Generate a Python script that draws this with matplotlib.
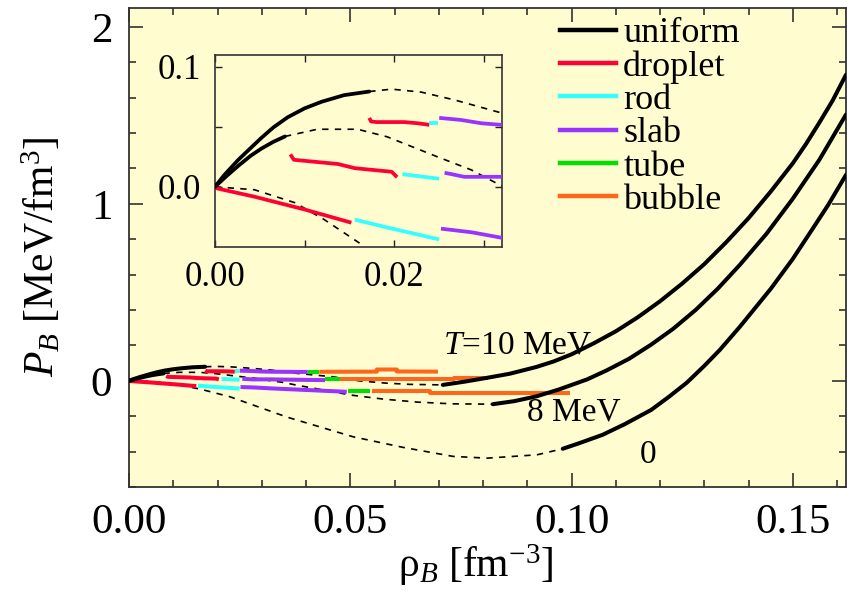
import matplotlib
matplotlib.use('Agg')
import matplotlib.pyplot as plt
from matplotlib.lines import Line2D
from matplotlib.ticker import MultipleLocator, FixedLocator, FixedFormatter

plt.rcParams['font.family'] = ['Liberation Serif', 'DejaVu Serif']
plt.rcParams['mathtext.fontset'] = 'custom'
plt.rcParams['mathtext.rm'] = 'Liberation Serif'
plt.rcParams['mathtext.it'] = 'Liberation Serif:italic'

# ---------------- data ----------------
phase_names = ['uniform', 'droplet', 'rod', 'slab', 'tube', 'bubble']
phase_colors = ['#000000', '#ff0033', '#33ffff', '#9933ff', '#00e000', '#ff6619']

# T = 10 MeV
t10_uni_low_x = [0, .001, .0026, .004, .0052, .0065, .0081, .010, .0119, .0144, .0172]
t10_uni_low_y = [0, .0095, .0225, .0325, .041, .0495, .058, .0655, .071, .0765, .0795]
t10_unst_x = [.0172, .0197, .023, .0267, .0319, .0368, .046, .052, .058, .0635, .0709]
t10_unst_y = [.0795, .0815, .079, .0725, .0617, .045, .023, .000, -.013, -.020, -.023]
t10_uni_high_x = [.0709, .076, .0809, .086, .092, .096, .100, .105, .110, .115, .120,
                  .125, .130, .135, .140, .145, .150, .153, .156, .159, .162]
t10_uni_high_y = [-.023, -.004, .017, .040, .078, .110, .150, .212, .280, .360, .450,
                  .550, .660, .785, .920, 1.070, 1.230, 1.340, 1.460, 1.585, 1.730]
t10_droplet_x = [.0172, .0174, .018, .0211, .0226, .0239]
t10_droplet_y = [.0575, .0545, .054, .054, .053, .0517]
t10_rod_x = [.0239, .0249]
t10_rod_y = [.053, .053]
t10_slab_x = [.025, .0274, .0297, .0319, .035, .0404]
t10_slab_y = [.0575, .0558, .053, .0517, .051, .050]
t10_tube_x = [.0404, .043]
t10_tube_y = [.052, .052]
t10_bubble_x = [.043, .056, .056, .0605, .0605, .0698]
t10_bubble_y = [.051, .052, .064, .064, .053, .052]

# T = 8 MeV
t8_uni_low_x = [0, .0013, .0026, .004, .0052, .0065, .0078]
t8_uni_low_y = [0, .009, .0175, .026, .032, .0375, .042]
t8_unst_x = [.0078, .0114, .0159, .0192, .0248, .0286, .0317, .0346, .038, .044, .050, .0574, .065, .073, .0822]
t8_unst_y = [.042, .048, .048, .0417, .025, .014, .0017, -.008, -.025, -.052, -.080, -.103, -.120, -.130, -.132]
t8_uni_high_x = [.0822, .087, .092, .097, .1035, .108, .113, .118, .123, .128, .133,
                 .138, .144, .150, .156, .162]
t8_uni_high_y = [-.132, -.115, -.088, -.050, .008, .060, .125, .205, .295, .400, .520,
                 .655, .830, 1.030, 1.250, 1.505]
t8_droplet_x = [.0084, .0088, .0137, .0156, .0197, .0203]
t8_droplet_y = [.027, .0225, .019, .0155, .0125, .008]
t8_rod_x = [.0209, .025]
t8_rod_y = [.0105, .0067]
t8_slab_x = [.0256, .0278, .0319, .035, .0443]
t8_slab_y = [.0117, .0083, .0083, .007, .004]
t8_tube_x = [.0443, .0477]
t8_tube_y = [.011, .011]
t8_bubble_x = [.0477, .0735, .0735, .081]
t8_bubble_y = [.011, .011, .017, .017]

# T = 0
t0_unst_x = [0, .0044, .0089, .0122, .0163, .0228, .0357, .0506, .0619, .0732, .0809, .0922, .098]
t0_unst_y = [0, -.0025, -.0133, -.0275, -.048, -.09, -.205, -.316, -.376, -.427, -.437, -.418, -.384]
t0_uni_high_x = [.098, .102, .107, .112, .118, .122, .126, .130, .1335, .138, .145, .150, .155, .158, .162]
t0_uni_high_y = [-.384, -.350, -.305, -.245, -.164, -.090, -.011, .085, .175, .305, .520, .690, .880, .995, 1.164]
t0_droplet_x = [0, .0044, .01, .0152]
t0_droplet_y = [-.001, -.0083, -.019, -.03]
t0_rod_x = [.0156, .0192, .025]
t0_rod_y = [-.0275, -.034, -.044]
t0_slab_x = [.0252, .0286, .0319, .0492]
t0_slab_y = [-.035, -.038, -.0425, -.062]
t0_tube_x = [.0495, .0544]
t0_tube_y = [-.056, -.056]
t0_bubble_x = [.0549, .068, .068, .0996]
t0_bubble_y = [-.056, -.056, -.068, -.068]

main_xticks_major = [0.00, 0.05, 0.10, 0.15]
main_xtick_labels = ['0.00', '0.05', '0.10', '0.15']
main_yticks_major = [0, 1, 2]
main_ytick_labels = ['0', '1', '2']
inset_xticks = [0.00, 0.01, 0.02, 0.03]
inset_xtick_labels = ['0.00', '', '0.02', '']
inset_yticks = [0.0, 0.05, 0.1]
inset_ytick_labels = ['0.0', '', '0.1']

temp_labels = ['$T$=10 MeV', '8 MeV', '0']
temp_label_x = [.0709, .0899, .1172]
temp_label_y = [.203, -.175, -.418]

BG = '#fffcd0'

uniform_solid = [(t10_uni_low_x, t10_uni_low_y), (t10_uni_high_x, t10_uni_high_y),
                 (t8_uni_low_x, t8_uni_low_y), (t8_uni_high_x, t8_uni_high_y),
                 (t0_uni_high_x, t0_uni_high_y)]
unstable = [(t10_unst_x, t10_unst_y), (t8_unst_x, t8_unst_y), (t0_unst_x, t0_unst_y)]
pasta = [
    (t10_droplet_x, t10_droplet_y, 1), (t10_rod_x, t10_rod_y, 2), (t10_slab_x, t10_slab_y, 3),
    (t10_tube_x, t10_tube_y, 4), (t10_bubble_x, t10_bubble_y, 5),
    (t8_droplet_x, t8_droplet_y, 1), (t8_rod_x, t8_rod_y, 2), (t8_slab_x, t8_slab_y, 3),
    (t8_tube_x, t8_tube_y, 4), (t8_bubble_x, t8_bubble_y, 5),
    (t0_droplet_x, t0_droplet_y, 1), (t0_rod_x, t0_rod_y, 2), (t0_slab_x, t0_slab_y, 3),
    (t0_tube_x, t0_tube_y, 4), (t0_bubble_x, t0_bubble_y, 5),
]


def draw_curves(ax, lw, lwd):
    for x, y in unstable:
        ax.plot(x, y, color='black', lw=lwd, ls=(0, (3.8, 3.8)), zorder=2)
    for x, y, k in pasta:
        ax.plot(x, y, color=phase_colors[k], lw=lw, solid_capstyle='butt',
                solid_joinstyle='round', zorder=3)
    for x, y in uniform_solid:
        ax.plot(x, y, color='black', lw=lw, solid_capstyle='round',
                solid_joinstyle='round', zorder=4)


fig = plt.figure(figsize=(8.47, 5.94), dpi=100)
fig.patch.set_facecolor('white')

ax = fig.add_axes([129 / 847, 1 - 487 / 594, 717 / 847, 479 / 594])
ax.set_facecolor(BG)
draw_curves(ax, 2.9, 1.2)
ax.set_xlim(0, 0.162)
ax.set_ylim(-0.6, 2.107)
ax.xaxis.set_major_locator(FixedLocator(main_xticks_major))
ax.xaxis.set_major_formatter(FixedFormatter(main_xtick_labels))
ax.xaxis.set_minor_locator(MultipleLocator(0.01))
ax.yaxis.set_major_locator(FixedLocator(main_yticks_major))
ax.yaxis.set_major_formatter(FixedFormatter(main_ytick_labels))
ax.yaxis.set_minor_locator(MultipleLocator(0.2))
ax.tick_params(which='both', direction='in', top=True, right=True, width=1.1, color='#222222')
ax.tick_params(which='major', length=10, labelsize=31)
ax.tick_params(which='minor', length=5)
ax.tick_params(axis='x', which='major', pad=12)
ax.tick_params(axis='y', which='major', pad=12)
for s in ax.spines.values():
    s.set_linewidth(1.3)
    s.set_color('#333333')

ax.set_xlabel(r'ρ$_{B}$ [fm$^{-3}$]', fontsize=30)
ax.set_ylabel(r'$P_{B}$ [MeV/fm$^{3}$]', fontsize=30)
ax.xaxis.set_label_coords(0.483, -0.115)
ax.yaxis.set_label_coords(-0.092, 0.48)

for t, x, y in zip(temp_labels, temp_label_x, temp_label_y):
    ax.text(x, y, t, fontsize=24, ha='left' if t != '0' else 'center', va='center', zorder=6)

handles = [Line2D([], [], color=c, lw=3.2) for c in phase_colors]
leg = ax.legend(handles, phase_names, loc='upper left', bbox_to_anchor=(560 / 847, 1 - 17 / 594),
                bbox_transform=fig.transFigure, frameon=False, fontsize=26, handlelength=1.55,
                handletextpad=0.2, labelspacing=0.0, borderpad=0, borderaxespad=0)

# inset
axi = fig.add_axes([215 / 847, 1 - 247 / 594, 287 / 847, 192 / 594])
axi.set_facecolor(BG)
draw_curves(axi, 2.7, 1.2)
axi.set_xlim(0, 0.032)
axi.set_ylim(-0.0503, 0.11)
axi.xaxis.set_major_locator(FixedLocator(inset_xticks))
axi.xaxis.set_major_formatter(FixedFormatter(inset_xtick_labels))
axi.yaxis.set_major_locator(FixedLocator(inset_yticks))
axi.yaxis.set_major_formatter(FixedFormatter(inset_ytick_labels))
axi.tick_params(which='both', direction='in', top=True, right=True, length=5, width=1.0,
                labelsize=25, pad=10, color='#222222')
for s in axi.spines.values():
    s.set_linewidth(1.2)
    s.set_color('#333333')

fig.savefig('out.png', dpi=100, facecolor='white')
